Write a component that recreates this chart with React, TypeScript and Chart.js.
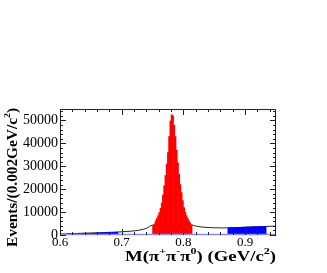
import React, { useEffect, useRef } from "react";
import { Chart, registerables } from "chart.js";

Chart.register(...registerables);

const binWidth = 0.002;
// Left sideband (blue), first bin centre 0.601
const leftBandStart = 0.601;
const leftBand = [
  200, 250, 230, 300, 280, 350, 330, 380, 400, 420,
  450, 430, 480, 500, 520, 550, 530, 580, 600, 620,
  650, 640, 680, 700, 720, 750, 740, 780, 800, 830,
  850, 870, 900, 880, 930, 960, 980, 1000, 1030, 1050,
  1080, 1100, 1130, 1150, 1180, 1200, 1230,
];
// Signal region (red), first bin centre 0.751
const signalStart = 0.751;
const signal = [
  4200, 4800, 6200, 7200, 8400, 9800, 11600, 14000, 17500, 21500,
  26000, 31000, 36000, 43000, 49800, 52500, 52000, 48000, 43000, 37000,
  31500, 26500, 22000, 18500, 15000, 12000, 10000, 8500, 7200, 6200,
  5200, 4400,
];
// Right sideband (blue), first bin centre 0.873
const rightBandStart = 0.873;
const rightBand = [
  3100, 3150, 3100, 3200, 3200, 3150, 3250, 3300, 3250, 3300,
  3350, 3300, 3400, 3400, 3350, 3450, 3450, 3400, 3500, 3550,
  3500, 3550, 3600, 3550, 3600, 3650, 3600, 3650, 3700, 3650, 3700,
];
// Fitted curve (black)
const curveX = [0.6, 0.62, 0.64, 0.66, 0.68, 0.7, 0.72, 0.73, 0.74, 0.75, 0.815, 0.82, 0.83, 0.84, 0.86, 0.88, 0.9, 0.92, 0.95];
const curveY = [400, 600, 800, 950, 1150, 1400, 1800, 2200, 2900, 4300, 4300, 3900, 3500, 3300, 3100, 3200, 3400, 3600, 3900];

const xTicks = [0.6, 0.7, 0.8, 0.9];
const xTickLabels = ["0.6", "0.7", "0.8", "0.9"];
const yTicks = [0, 10000, 20000, 30000, 40000, 50000];
const yTickLabels = ["0", "10000", "20000", "30000", "40000", "50000"];
const xMinorTicks = [0.62, 0.64, 0.66, 0.68, 0.72, 0.74, 0.76, 0.78, 0.82, 0.84, 0.86, 0.88, 0.92, 0.94];
const yMinorTicks = [2000, 4000, 6000, 8000, 12000, 14000, 16000, 18000, 22000, 24000, 26000, 28000, 32000, 34000, 36000, 38000, 42000, 44000, 46000, 48000, 52000, 54000];

// Axis titles as [text, isSuperscript]
const xTitle: [string, boolean][] = [["M(π", false], ["+", true], ["π", false], ["-", true], ["π", false], ["0", true], [") (GeV/c", false], ["2", true], [")", false]];
const yTitle: [string, boolean][] = [["Events/(0.002GeV/c", false], ["2", true], [")", false]];

const toPoints = (start: number, vals: number[]) =>
  vals.map((v, i) => ({ x: +(start + i * binWidth).toFixed(4), y: v }));

const FONT = "'Liberation Serif', 'DejaVu Serif', serif";

function drawRich(ctx: CanvasRenderingContext2D, segs: [string, boolean][], size: number, supSize: number, target: number) {
  // draws starting at (0,0) baseline-middle, stretched horizontally to the target width
  let w = 0;
  const widths = segs.map(([t, sup]) => {
    ctx.font = `bold ${sup ? supSize : size}px ${FONT}`;
    const m = ctx.measureText(t).width;
    w += m;
    return m;
  });
  const k = target / w;
  ctx.save();
  ctx.scale(k, 1);
  let x = 0;
  segs.forEach(([t, sup], i) => {
    ctx.font = `bold ${sup ? supSize : size}px ${FONT}`;
    ctx.fillText(t, x, sup ? -size * 0.38 : 0);
    x += widths[i];
  });
  ctx.restore();
}

const rootStyle = {
  id: "rootStyle",
  afterDatasetsDraw(chart: any) {
    const { ctx, chartArea: a, scales } = chart;
    const xs = scales.x;
    const ys = scales.y;
    ctx.save();
    // purple baseline
    ctx.strokeStyle = "#8a8af0";
    ctx.lineWidth = 1.5;
    ctx.beginPath();
    ctx.moveTo(a.left, a.bottom - 0.5);
    ctx.lineTo(a.right, a.bottom - 0.5);
    ctx.stroke();
    // frame
    ctx.strokeStyle = "#222";
    ctx.lineWidth = 1;
    ctx.beginPath();
    ctx.moveTo(a.left + 0.5, a.bottom);
    ctx.lineTo(a.left + 0.5, a.top + 0.5);
    ctx.lineTo(a.right - 0.5, a.top + 0.5);
    ctx.lineTo(a.right - 0.5, a.bottom);
    ctx.stroke();
    // ticks
    ctx.beginPath();
    const xt = (v: number, len: number) => {
      const px = Math.round(xs.getPixelForValue(v)) + 0.5;
      ctx.moveTo(px, a.top);
      ctx.lineTo(px, a.top + len);
      ctx.moveTo(px, a.bottom);
      ctx.lineTo(px, a.bottom - len);
    };
    const yt = (v: number, len: number) => {
      const py = Math.round(ys.getPixelForValue(v)) + 0.5;
      ctx.moveTo(a.left, py);
      ctx.lineTo(a.left + len, py);
      ctx.moveTo(a.right, py);
      ctx.lineTo(a.right - len, py);
    };
    xTicks.forEach((v) => xt(v, 6));
    xMinorTicks.forEach((v) => xt(v, 3));
    yTicks.forEach((v) => yt(v, 6));
    yMinorTicks.forEach((v) => yt(v, 3));
    ctx.stroke();
    // titles
    ctx.fillStyle = "#000";
    ctx.textAlign = "left";
    ctx.textBaseline = "middle";
    ctx.save();
    ctx.translate(125, 257);
    drawRich(ctx, xTitle, 14, 9, 151);
    ctx.restore();
    ctx.save();
    ctx.translate(13, 247);
    ctx.rotate(-Math.PI / 2);
    drawRich(ctx, yTitle, 14, 9, 139);
    ctx.restore();
    ctx.restore();
  },
};

export default function App() {
  const ref = useRef<HTMLCanvasElement>(null);
  useEffect(() => {
    if (!ref.current) return;
    const chart = new Chart(ref.current, {
      type: "bar",
      data: {
        datasets: [
          {
            type: "line",
            data: curveX.map((x, i) => ({ x, y: curveY[i] })),
            borderColor: "#222",
            borderWidth: 1,
            pointRadius: 0,
            tension: 0.4,
            fill: false,
            order: 2,
          } as any,
          {
            data: toPoints(leftBandStart, leftBand),
            backgroundColor: "#0000ff",
            borderWidth: 0,
            barPercentage: 1,
            categoryPercentage: 1,
            grouped: false,
            order: 1,
          },
          {
            data: toPoints(signalStart, signal),
            backgroundColor: "#ff0000",
            borderWidth: 0,
            barPercentage: 1,
            categoryPercentage: 1,
            grouped: false,
            order: 1,
          },
          {
            data: toPoints(rightBandStart, rightBand),
            backgroundColor: "#0000ff",
            borderWidth: 0,
            barPercentage: 1,
            categoryPercentage: 1,
            grouped: false,
            order: 1,
          },
        ],
      },
      options: {
        responsive: false,
        animation: false,
        layout: { padding: { top: 109, right: 51, left: 0, bottom: 0 } },
        plugins: { legend: { display: false }, tooltip: { enabled: false } },
        scales: {
          x: {
            type: "linear",
            min: 0.6,
            max: 0.95,
            offset: false,
            grid: { display: false, drawTicks: false, offset: false },
            border: { display: false },
            afterBuildTicks: (s: any) => {
              s.ticks = xTicks.map((value) => ({ value }));
            },
            afterFit: (s: any) => {
              s.height = 38;
            },
            ticks: {
              padding: 0,
              maxRotation: 0,
              autoSkip: false,
              color: "#000",
              font: { family: FONT, size: 13 },
              callback: (v: any) => {
                const i = xTicks.findIndex((t) => Math.abs(t - v) < 1e-6);
                return i >= 0 ? xTickLabels[i] : "";
              },
            },
          },
          y: {
            min: 0,
            max: 55000,
            grid: { display: false, drawTicks: false },
            border: { display: false },
            afterBuildTicks: (s: any) => {
              s.ticks = yTicks.map((value) => ({ value }));
            },
            afterFit: (s: any) => {
              s.width = 60;
            },
            ticks: {
              padding: 2,
              autoSkip: false,
              color: "#000",
              font: { family: FONT, size: 14 },
              callback: (v: any) => {
                const i = yTicks.indexOf(v);
                return i >= 0 ? yTickLabels[i] : "";
              },
            },
          },
        },
      },
      plugins: [rootStyle],
    });
    return () => chart.destroy();
  }, []);
  return (
    <div style={{ position: "absolute", left: 0, top: 0, width: 327, height: 273, background: "#fff" }}>
      <canvas ref={ref} width={327} height={273} style={{ width: 327, height: 273, display: "block" }} />
    </div>
  );
}
